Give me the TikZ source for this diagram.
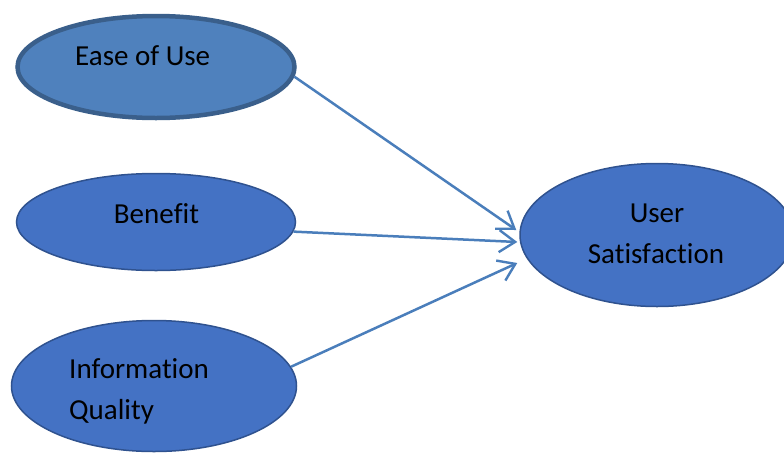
\documentclass[tikz,border=0pt]{standalone}
\usepackage{fontspec}
\setmainfont{Carlito}[RawFeature={-liga;-clig;-dlig;-calt}]
\usetikzlibrary{arrows.meta,shapes.geometric}
\definecolor{fillA}{HTML}{4F81BD}
\definecolor{edgeA}{HTML}{3A5F8B}
\definecolor{fillB}{HTML}{4472C4}
\definecolor{edgeB}{HTML}{2F528F}
\definecolor{linkc}{HTML}{4A7EBB}
\tikzset{
  oval/.style={ellipse, draw=edgeB, fill=fillB, line width=1.5pt, inner sep=0pt},
  ovalthick/.style={ellipse, draw=edgeA, fill=fillA, line width=4.5pt, inner sep=0pt},
  lbl/.style={inner sep=0pt, text=black, font=\fontsize{29}{40}\selectfont},
  link/.style={draw=linkc, line width=2.5pt,
    -{Straight Barb[length=16pt,width=22pt,line width=2.4pt]}}
}
\begin{document}
\begin{tikzpicture}[x=1pt,y=-1pt]
\useasboundingbox (0,0) rectangle (784,453);
% construct ovals
\node[ovalthick, minimum width=277pt, minimum height=102pt] (eou) at (156,67) {};
\node[oval, minimum width=279pt, minimum height=97pt] (ben) at (156,222) {};
\node[oval, minimum width=285pt, minimum height=131pt] (inf) at (154,386) {};
\node[oval, minimum width=274pt, minimum height=143pt] (us) at (657,235) {};
% labels
\node[lbl, anchor=base west] (teou) at (75,65) {Ease of Use};
\node[lbl, anchor=base] (tben) at (156.5,223) {Bene\kern0ptf\kern0ptit};
\node[lbl, anchor=base west] (tinf1) at (69,378) {Information};
\node[lbl, anchor=base west] (tinf2) at (69,419) {Quality};
\node[lbl, anchor=base] (tus1) at (657,222) {User};
\node[lbl, anchor=base] (tus2) at (656,263) {Satisf\kern0ptact\kern0ption};
% paths into the outcome
\draw[link] (eou.-4) -- ([shift={(-3,-5)}]us.west);
\draw[link] (ben.-4) -- ([shift={(-2,7)}]us.west);
\draw[link] (inf.8) -- ([shift={(-2,28)}]us.west);
\end{tikzpicture}
\end{document}
